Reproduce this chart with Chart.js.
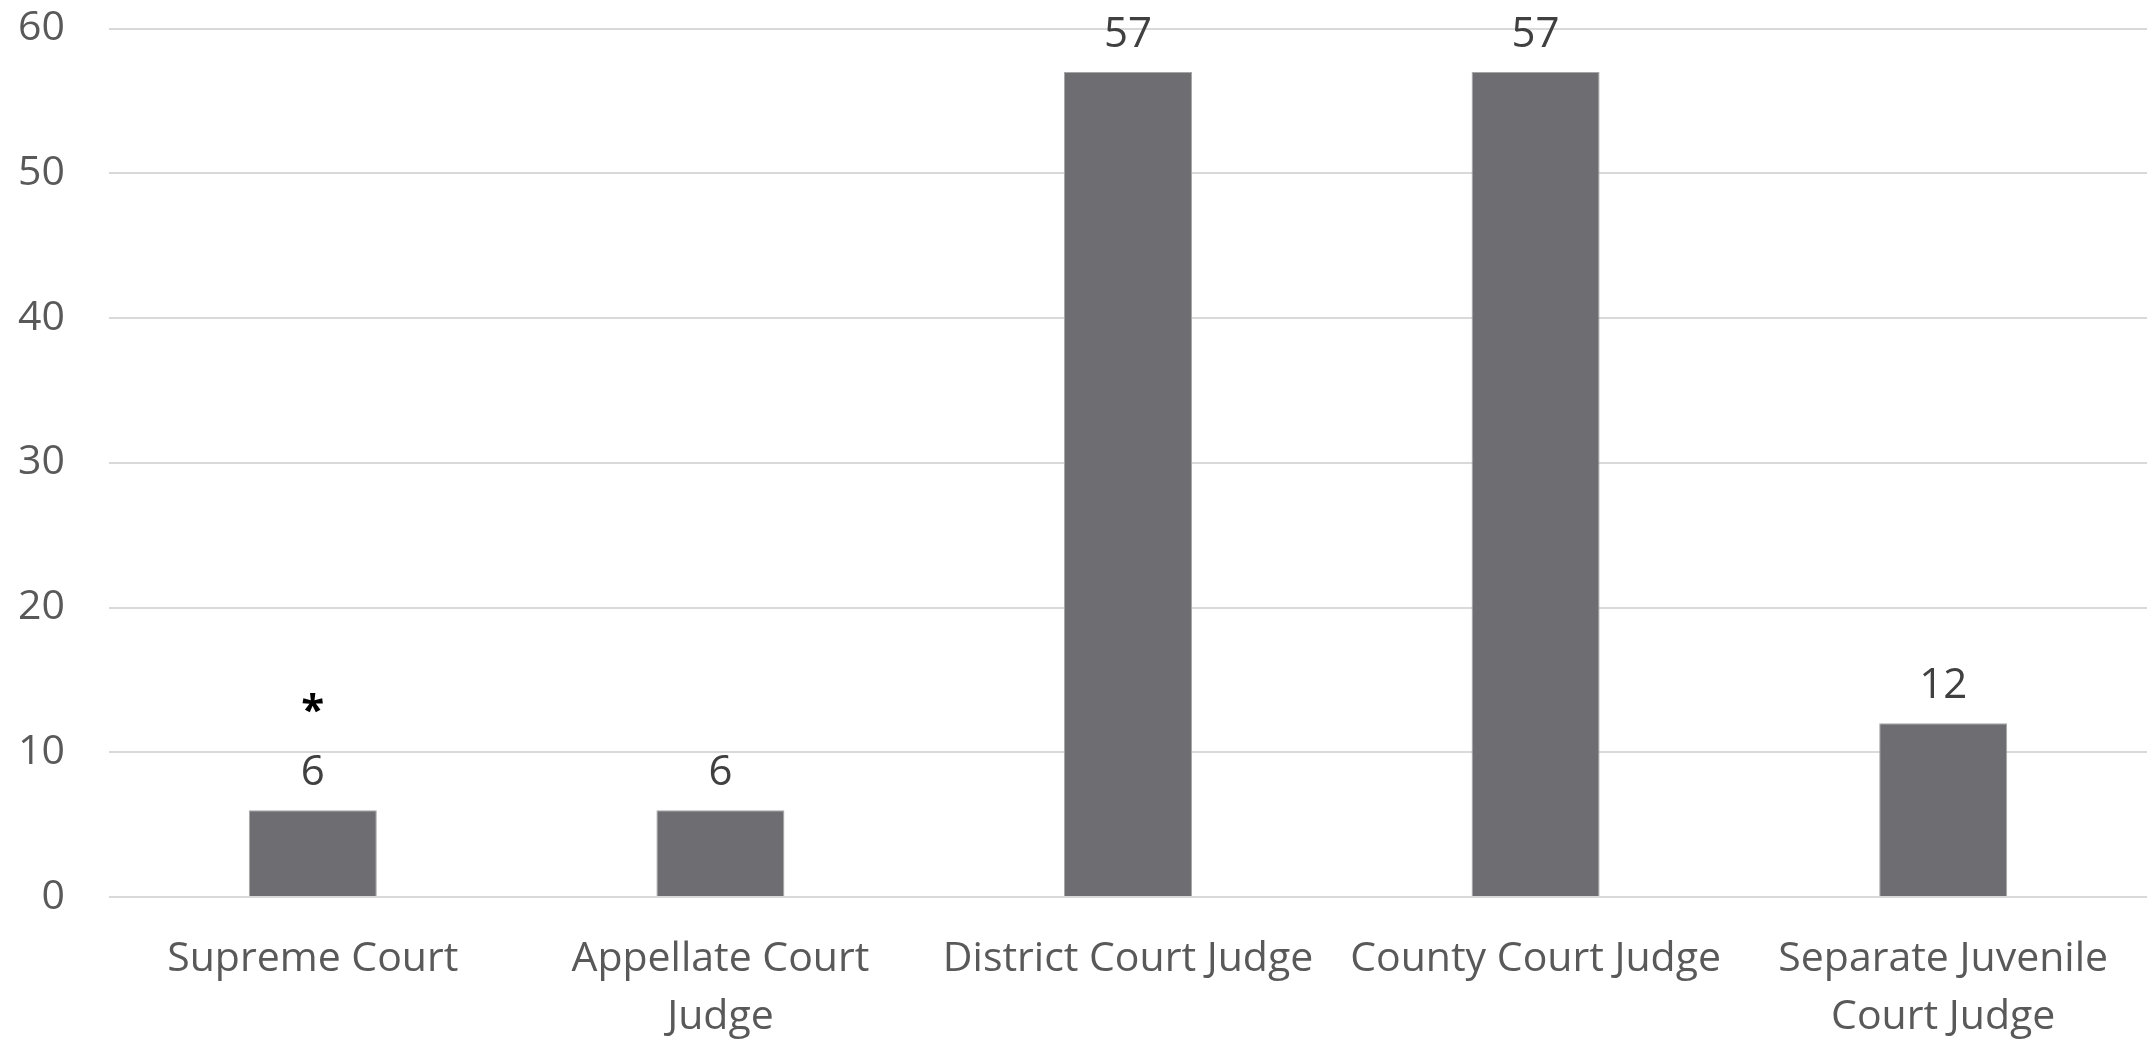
<!DOCTYPE html>
<html>
<head>
<meta charset="utf-8">
<script src="https://cdn.jsdelivr.net/npm/chart.js@4"></script>
<style>
  html, body { margin: 0; padding: 0; background: #ffffff; }
  #wrap { width: 2149px; height: 1041px; position: relative; }
</style>
</head>
<body>
<div id="wrap"><canvas id="c"></canvas></div>
<script>
const categories = [
  ["Supreme Court"],
  ["Appellate Court", "Judge"],
  ["District Court Judge"],
  ["County Court Judge"],
  ["Separate Juvenile", "Court Judge"]
];
const values = [6, 6, 57, 57, 12];
const notes = ["*", "", "", "", ""];
const yMin = 0, yMax = 60, yStep = 10;

const FONT = "'Open Sans', 'Noto Sans', sans-serif";

const valueLabels = {
  id: 'valueLabels',
  afterDatasetsDraw(chart) {
    const ctx = chart.ctx;
    const meta = chart.getDatasetMeta(0);
    ctx.save();
    ctx.textAlign = 'center';
    meta.data.forEach((bar, i) => {
      ctx.font = "42px " + FONT;
      ctx.fillStyle = '#404040';
      ctx.textBaseline = 'alphabetic';
      ctx.fillText(String(values[i]), bar.x, bar.y - 25);
      if (notes[i]) {
        ctx.font = "bold 42px " + FONT;
        ctx.fillStyle = '#000000';
        ctx.textBaseline = 'middle';
        ctx.fillText(notes[i], bar.x, bar.y - 98);
      }
    });
    ctx.restore();
  }
};

new Chart(document.getElementById('c'), {
  type: 'bar',
  data: {
    labels: categories,
    datasets: [{
      data: values,
      backgroundColor: '#6e6d72',
      borderColor: '#a6a6a6',
      borderWidth: 1,
      categoryPercentage: 1,
      barPercentage: 0.314
    }]
  },
  options: {
    responsive: true,
    maintainAspectRatio: false,
    animation: false,
    layout: { padding: { top: 0, right: 2, left: 0, bottom: 0 } },
    plugins: {
      legend: { display: false },
      tooltip: { enabled: false }
    },
    scales: {
      x: {
        grid: { display: false },
        border: { display: false },
        afterFit(scale) { scale.height = 144; },
        ticks: {
          color: '#595959',
          font: { family: FONT, size: 41, lineHeight: 1.42 },
          maxRotation: 0,
          minRotation: 0,
          autoSkip: false,
          padding: 25
        }
      },
      y: {
        min: yMin,
        max: yMax,
        grid: { color: '#d9d9d9', lineWidth: 2, drawTicks: true, tickLength: 40, tickColor: 'rgba(0,0,0,0)' },
        border: { display: false },
        afterFit(scale) { scale.width = 109; },
        ticks: {
          stepSize: yStep,
          color: '#595959',
          font: { family: FONT, size: 41 },
          padding: 4
        }
      }
    }
  },
  plugins: [valueLabels]
});
</script>
</body>
</html>
